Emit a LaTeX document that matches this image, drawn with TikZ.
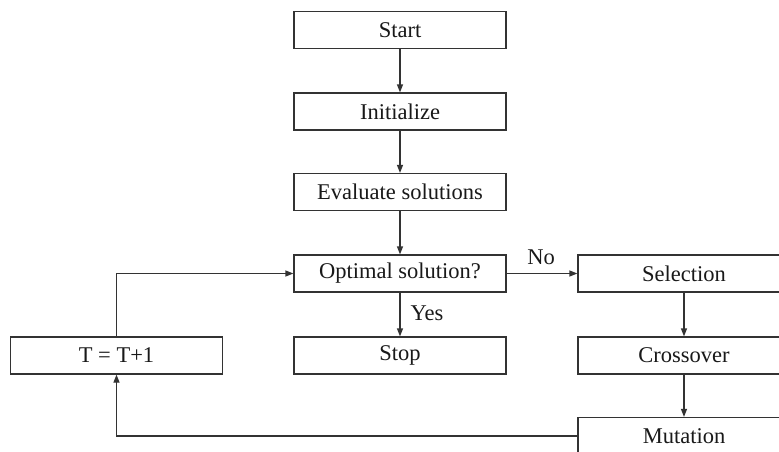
\documentclass[tikz,border=0pt]{standalone}
\usepackage{fontspec}
\setmainfont{Liberation Serif}
\usetikzlibrary{arrows.meta}
\begin{document}
\begin{tikzpicture}[x=1pt,y=-1pt,
  box/.style={draw=black!80, line width=1.2pt, minimum width=212pt, minimum height=37pt, inner sep=0pt, font=\fontsize{22.5}{26}\selectfont, text=black!90},
  lbl/.style={font=\fontsize{22.5}{26}\selectfont, text=black!90, inner sep=0pt},
  conn/.style={draw=black!80, line width=1.2pt, -{Triangle[length=8pt,width=6pt]}}]
\useasboundingbox (0,0) rectangle (779,452);
\clip (0,0) rectangle (779,452);
\fill[white] (0,0) rectangle (779,452);
\node[box] (start) at (400,30) {Start};
\node[box] (init) at (400,111.5) {Initialize};
\node[box] (eval) at (400,192) {Evaluate solutions};
\node[box] (opt) at (400,273.5) {Optimal solution?};
\node[box] (stop) at (400,355.5) {Stop};
\node[box] (t) at (116.5,355.5) {T = T+1};
\node[box] (sel) at (684,273.5) {Selection};
\node[box] (cross) at (684,355.5) {Crossover};
\node[box] (mut) at (684,436) {Mutation};
\node[lbl] (no) at (541,257) {No};
\node[lbl] (yes) at (427,313) {Yes};
\draw[conn] (start) -- (init);
\draw[conn] (init) -- (eval);
\draw[conn] (eval) -- (opt);
\draw[conn] (opt) -- (stop);
\draw[conn] (opt) -- (sel);
\draw[conn] (sel) -- (cross);
\draw[conn] (cross) -- (mut);
\draw[conn] (mut.west) -| (t.south);
\draw[conn] (t.north) |- (opt.west);
\end{tikzpicture}
\end{document}
